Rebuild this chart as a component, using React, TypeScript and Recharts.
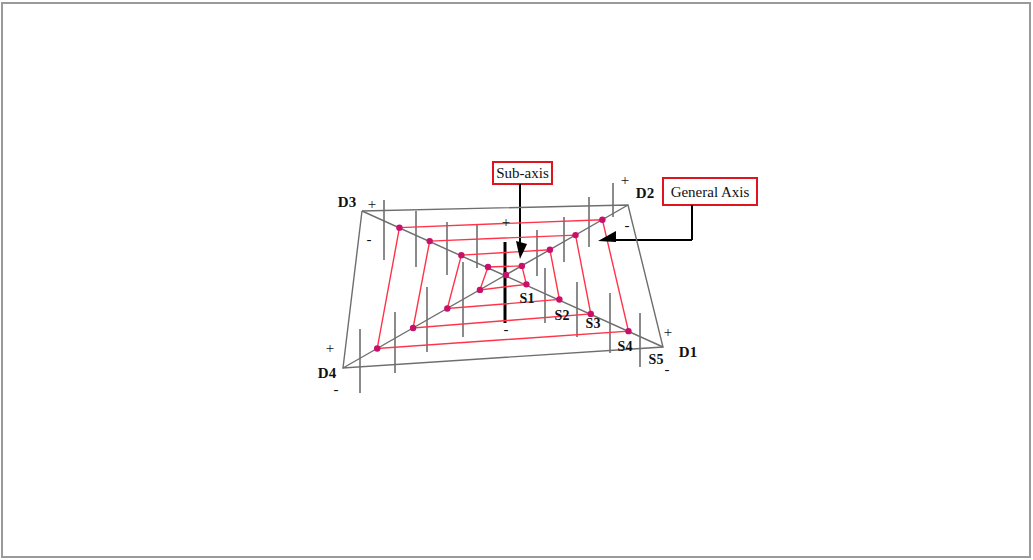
import React from 'react';
import { ComposedChart, XAxis, YAxis, Scatter, ReferenceLine, ReferenceArea } from 'recharts';

// diagram space is measured in the picture's own units (0..1033 x 0..560)
const directions = ['D1', 'D2', 'D3', 'D4'];
const cornerX = [663, 628, 362, 343];
const cornerY = [347, 205, 211, 368];
const centerPoint = { x: 506, y: 275 };

const scaleLabels = ['S1', 'S2', 'S3', 'S4', 'S5'];
// where each scale sits on a direction (0 = centre, 1 = frame corner = S5)
const levelD1 = [0.13, 0.34, 0.54, 0.78];
const levelD2 = [0.13, 0.36, 0.57, 0.79];
const levelD3 = [0.125, 0.31, 0.53, 0.74];
const levelD4 = [0.16, 0.36, 0.57, 0.79];

// vertical sub-axes
const subAxisX = [384, 416, 447, 477, 537, 564, 589, 613, 360, 395, 427, 463, 545, 577, 610, 640];
const subAxisTop = [200, 211, 222, 225, 230, 217, 197, 183, 329, 312, 287, 262, 268, 282, 293, 313];
const subAxisBottom = [260, 267, 275, 268, 276, 262, 247, 217, 393, 373, 352, 337, 323, 337, 353, 367];
const mainSubAxis = { x: 505, top: 242, bottom: 323 };

// label anchors
const directionLabelPos = [
  { x: 688, y: 352 },
  { x: 645, y: 193 },
  { x: 347, y: 202 },
  { x: 327, y: 373 },
];
const scaleLabelPos = [
  { x: 527, y: 298 },
  { x: 562, y: 315 },
  { x: 593, y: 323 },
  { x: 625, y: 346 },
  { x: 656, y: 359 },
];
const signs = [
  { text: '+', x: 372, y: 204 },
  { text: '-', x: 369, y: 239 },
  { text: '+', x: 625, y: 180 },
  { text: '-', x: 627, y: 225 },
  { text: '+', x: 668, y: 332 },
  { text: '-', x: 667, y: 369 },
  { text: '+', x: 330, y: 348 },
  { text: '-', x: 336, y: 389 },
  { text: '+', x: 506, y: 222 },
  { text: '-', x: 506, y: 329 },
];

const RED = '#ff3349';
const DOT = '#c8106a';
const GRAY = '#6e6e6e';
const SERIF = "'Liberation Serif', 'Times New Roman', serif";

const levels = [levelD1, levelD2, levelD3, levelD4];
const ringOrder = [2, 1, 0, 3, 2];

const pointAt = (d: number, r: number) => ({
  x: centerPoint.x + r * (cornerX[d] - centerPoint.x),
  y: centerPoint.y + r * (cornerY[d] - centerPoint.y),
});

const rings = levelD1.map((_, i) => ringOrder.map((d) => pointAt(d, levels[d][i])));
const frame = ringOrder.map((d) => pointAt(d, 1));
const dots = [centerPoint, ...levels.flatMap((lv, d) => lv.map((r) => pointAt(d, r)))];

const dirLabels = directions.map((t, i) => ({ text: t, ...directionLabelPos[i] }));
const sLabels = scaleLabels.map((t, i) => ({ text: t, ...scaleLabelPos[i] }));

const Empty = () => <g />;

const Dot = (props: any) => <circle cx={props.cx} cy={props.cy} r={3.2} fill={DOT} />;

const makeText = (size: number, weight: number) => (props: any) => {
  const { cx, cy, payload } = props;
  return (
    <text x={cx} y={cy} textAnchor="middle" dominantBaseline="central" fontFamily={SERIF} fontSize={size} fontWeight={weight} fill="#111">
      {payload.text}
    </text>
  );
};
const BoldLabel = makeText(15, 700);
const ScaleLabel = makeText(14, 700);
const SignLabel = makeText(15, 400);

const DownHead = (props: any) => {
  const { cx, cy } = props;
  return <path d={`M${cx},${cy} L${cx - 4},${cy - 18} L${cx + 7},${cy - 15} Z`} fill="#000" />;
};
const LeftHead = (props: any) => {
  const { cx, cy } = props;
  return <path d={`M${cx},${cy} L${cx + 18},${cy - 10} L${cx + 18},${cy + 1} Z`} fill="#000" />;
};

const App: React.FC = () => {
  return (
    <div style={{ position: 'absolute', left: 0, top: 0, width: 1033, height: 560, background: '#fff' }}>
      <div
        style={{
          position: 'absolute',
          left: 1,
          top: 2,
          width: 1030,
          height: 556,
          boxSizing: 'border-box',
          border: '2px solid #9a9a9a',
        }}
      />
      <ComposedChart width={1033} height={560} margin={{ top: 0, right: 0, bottom: 0, left: 0 }}>
        <XAxis type="number" dataKey="x" domain={[0, 1033]} hide allowDataOverflow />
        <YAxis type="number" dataKey="y" domain={[0, 560]} reversed hide allowDataOverflow />

        {subAxisX.map((x, i) => (
          <ReferenceLine
            key={'sa' + i}
            segment={[{ x, y: subAxisTop[i] }, { x, y: subAxisBottom[i] }]}
            stroke={GRAY}
            strokeWidth={1.6}
          />
        ))}
        <ReferenceLine
          segment={[{ x: mainSubAxis.x, y: mainSubAxis.top }, { x: mainSubAxis.x, y: mainSubAxis.bottom }]}
          stroke="#000"
          strokeWidth={3}
        />

        <Scatter data={frame} line={{ stroke: GRAY, strokeWidth: 1.4 }} shape={Empty} isAnimationActive={false} />
        <ReferenceLine segment={[frame[0], frame[2]]} stroke={GRAY} strokeWidth={1.4} />
        <ReferenceLine segment={[frame[3], frame[1]]} stroke={GRAY} strokeWidth={1.4} />

        {rings.map((ring, i) => (
          <Scatter key={'ring' + i} data={ring} line={{ stroke: RED, strokeWidth: 1.4 }} shape={Empty} isAnimationActive={false} />
        ))}
        <Scatter data={dots} shape={Dot} isAnimationActive={false} />

        <ReferenceLine segment={[{ x: 520, y: 184 }, { x: 520, y: 244 }]} stroke="#000" strokeWidth={2} />
        <Scatter data={[{ x: 520, y: 259 }]} shape={DownHead} isAnimationActive={false} />
        <ReferenceLine segment={[{ x: 692, y: 205 }, { x: 692, y: 240 }]} stroke="#000" strokeWidth={2} />
        <ReferenceLine segment={[{ x: 692, y: 240 }, { x: 612, y: 240 }]} stroke="#000" strokeWidth={2} />
        <Scatter data={[{ x: 598, y: 241 }]} shape={LeftHead} isAnimationActive={false} />

        <ReferenceArea
          x1={493}
          x2={552}
          y1={162}
          y2={184}
          stroke="#e0141e"
          strokeWidth={2}
          fill="#fff"
          fillOpacity={1}
          label={{ value: 'Sub-axis', position: 'center', fontFamily: SERIF, fontSize: 15, fill: '#111' }}
        />
        <ReferenceArea
          x1={663}
          x2={757}
          y1={178}
          y2={205}
          stroke="#e0141e"
          strokeWidth={2}
          fill="#fff"
          fillOpacity={1}
          label={{ value: 'General Axis', position: 'center', fontFamily: SERIF, fontSize: 15, fill: '#111' }}
        />

        <Scatter data={dirLabels} shape={BoldLabel} isAnimationActive={false} />
        <Scatter data={sLabels} shape={ScaleLabel} isAnimationActive={false} />
        <Scatter data={signs} shape={SignLabel} isAnimationActive={false} />
      </ComposedChart>
    </div>
  );
};

export default App;
